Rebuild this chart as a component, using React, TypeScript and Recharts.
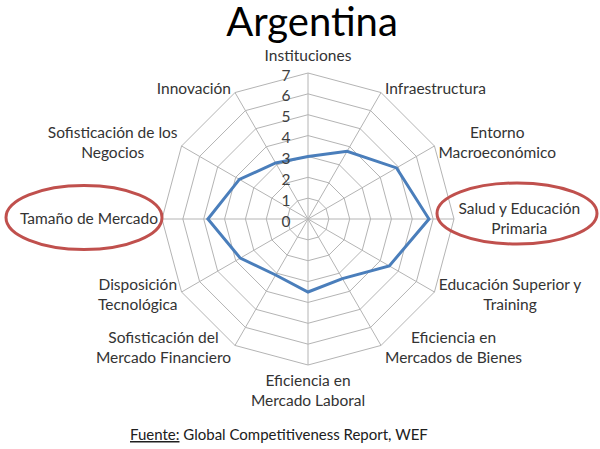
import React from 'react';
import { RadarChart, Radar, PolarGrid, PolarAngleAxis, PolarRadiusAxis } from 'recharts';

const categories = [
  'Instituciones',
  'Infraestructura',
  'Entorno\nMacroeconómico',
  'Salud y Educación\nPrimaria',
  'Educación Superior y\nTraining',
  'Eficiencia en\nMercados de Bienes',
  'Eficiencia en\nMercado Laboral',
  'Sofisticación del\nMercado Financiero',
  'Disposición\nTecnológica',
  'Tamaño de Mercado',
  'Sofisticación de los\nNegocios',
  'Innovación',
];
const argentinaValues = [3.0, 3.75, 4.9, 5.8, 4.5, 3.3, 3.5, 3.1, 3.75, 4.8, 3.8, 3.1];
const radiusTicks = [0, 1, 2, 3, 4, 5, 6, 7];

const data = categories.map((name, i) => ({ name, value: argentinaValues[i] }));

const FONT = 'Lato, "Open Sans", sans-serif';
const LABEL_SIZE = 15.5;
const OUTER = 146;

let ctx: CanvasRenderingContext2D | null = null;
const measure = (s: string) => {
  if (!ctx) ctx = document.createElement('canvas').getContext('2d');
  if (!ctx) return s.length * 7.5;
  ctx.font = `${LABEL_SIZE}px Lato`;
  return ctx.measureText(s).width;
};

const AngleTick = (props: any) => {
  const { x, y, cx, cy, payload } = props;
  const lines: string[] = String(payload.value).split('\n');
  const dx = x - cx;
  const dy = y - cy;
  const len = Math.sqrt(dx * dx + dy * dy) || 1;
  const cos = dx / len;
  const sin = dy / len;
  const px = cx + OUTER * cos;
  const py = cy + OUTER * sin;
  const w = Math.max(...lines.map(measure));
  let centerX = px;
  let firstCenterY: number;
  if (Math.abs(cos) < 0.01) {
    firstCenterY = sin < 0 ? py - 18 - (lines.length - 1) * 20 : py + 15;
  } else {
    centerX = cos > 0 ? px + 4 + w / 2 : px - 4 - w / 2;
    const off = sin < -0.01 ? -4 : sin > 0.01 ? 2.5 : -1;
    firstCenterY = py + off - (lines.length - 1) * 10;
  }
  return (
    <g>
      {lines.map((l, i) => (
        <text
          key={i}
          x={centerX}
          y={firstCenterY + i * 20 + 5.5}
          textAnchor="middle"
          fontSize={LABEL_SIZE}
          fontFamily={FONT}
          fill="#333"
        >
          {l}
        </text>
      ))}
    </g>
  );
};

const RadiusTick = (props: any) => {
  const { x, y, payload } = props;
  return (
    <text x={x - 22} y={y + 7.5} textAnchor="middle" fontSize={15.5} fontFamily={FONT} fill="#404040">
      {payload.value}
    </text>
  );
};

const App: React.FC = () => {
  return (
    <div style={{ position: 'absolute', left: 0, top: 0, width: 600, height: 449, background: '#fff', fontFamily: FONT }}>
      <RadarChart width={600} height={449} data={data} cx={308} cy={219} outerRadius={OUTER}>
        <PolarGrid gridType="polygon" stroke="#b4b4b4" />
        <PolarAngleAxis dataKey="name" tick={<AngleTick />} tickLine={false} axisLine={false} />
        <PolarRadiusAxis
          angle={90}
          domain={[0, 7]}
          ticks={radiusTicks as any}
          tickCount={8}
          axisLine={false}
          tickLine={false}
          tick={<RadiusTick />}
        />
        <Radar
          dataKey="value"
          stroke="#4a7ebb"
          strokeWidth={3}
          fill="none"
          fillOpacity={0}
          dot={false}
          isAnimationActive={false}
        />
      </RadarChart>
      <svg width={600} height={449} style={{ position: 'absolute', left: 0, top: 0, pointerEvents: 'none' }}>
        <text x={312} y={36} textAnchor="middle" fontSize={40} fontFamily={FONT} fill="#000">
          Argentina
        </text>
        <ellipse cx={84} cy={217.5} rx={78} ry={32} fill="none" stroke="#c0504d" strokeWidth={3} />
        <ellipse cx={517} cy={213.5} rx={80} ry={30.5} fill="none" stroke="#c0504d" strokeWidth={3} />
        <text x={130} y={440} fontSize={15} fontFamily={FONT} fill="#202020">
          <tspan textDecoration="underline">Fuente:</tspan>
          <tspan> Global Competitiveness Report, WEF</tspan>
        </text>
      </svg>
    </div>
  );
};

export default App;
